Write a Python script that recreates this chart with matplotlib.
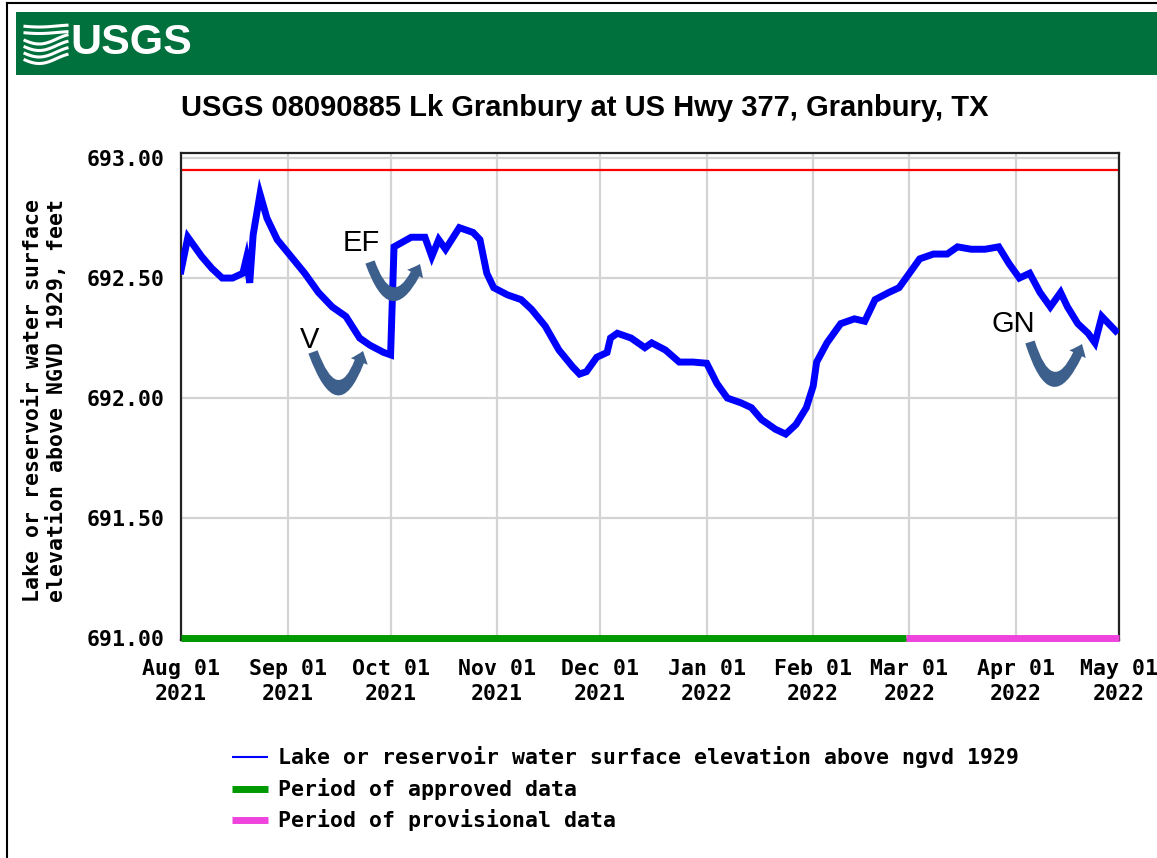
import numpy as np
import pandas as pd
import matplotlib
matplotlib.use('Agg')
import matplotlib.pyplot as plt
import matplotlib.dates as mdates
from matplotlib.patches import Rectangle, FancyArrowPatch
from matplotlib.lines import Line2D

# ---------------- data ----------------
dates = ['2021-08-01', '2021-08-03', '2021-08-07', '2021-08-10', '2021-08-13',
         '2021-08-16', '2021-08-19', '2021-08-20', '2021-08-21', '2021-08-22',
         '2021-08-24', '2021-08-26', '2021-08-29', '2021-09-02', '2021-09-06',
         '2021-09-10', '2021-09-14', '2021-09-18', '2021-09-22', '2021-09-25',
         '2021-09-29', '2021-10-01', '2021-10-02', '2021-10-07', '2021-10-11',
         '2021-10-13', '2021-10-15', '2021-10-17', '2021-10-21', '2021-10-25',
         '2021-10-27', '2021-10-29', '2021-10-31', '2021-11-04', '2021-11-08',
         '2021-11-11', '2021-11-15', '2021-11-19', '2021-11-23', '2021-11-25',
         '2021-11-27', '2021-11-30', '2021-12-03', '2021-12-04', '2021-12-06',
         '2021-12-10', '2021-12-14', '2021-12-16', '2021-12-20', '2021-12-24',
         '2021-12-28', '2022-01-01', '2022-01-04', '2022-01-07', '2022-01-11',
         '2022-01-14', '2022-01-17', '2022-01-21', '2022-01-24', '2022-01-27',
         '2022-01-30', '2022-02-01', '2022-02-02', '2022-02-05', '2022-02-09',
         '2022-02-13', '2022-02-16', '2022-02-19', '2022-02-23', '2022-02-26',
         '2022-03-01', '2022-03-04', '2022-03-08', '2022-03-12', '2022-03-15',
         '2022-03-19', '2022-03-23', '2022-03-27', '2022-03-30', '2022-04-02',
         '2022-04-05', '2022-04-08', '2022-04-11', '2022-04-14', '2022-04-16',
         '2022-04-19', '2022-04-22', '2022-04-24', '2022-04-26', '2022-04-28',
         '2022-04-30']
elevation = [692.53, 692.67, 692.59, 692.54, 692.50,
             692.50, 692.52, 692.58, 692.48, 692.68,
             692.85, 692.75, 692.66, 692.59, 692.52,
             692.44, 692.38, 692.34, 692.25, 692.22,
             692.19, 692.18, 692.63, 692.67, 692.67,
             692.59, 692.66, 692.62, 692.71, 692.69,
             692.66, 692.52, 692.46, 692.43, 692.41,
             692.37, 692.30, 692.20, 692.13, 692.10,
             692.11, 692.17, 692.19, 692.25, 692.27,
             692.25, 692.21, 692.23, 692.20, 692.15,
             692.15, 692.145, 692.06, 692.00, 691.98,
             691.96, 691.91, 691.87, 691.85, 691.89,
             691.96, 692.05, 692.15, 692.23, 692.31,
             692.33, 692.32, 692.41, 692.44, 692.46,
             692.52, 692.58, 692.60, 692.60, 692.63,
             692.62, 692.62, 692.63, 692.56, 692.50,
             692.52, 692.44, 692.38, 692.44, 692.38,
             692.31, 692.27, 692.23, 692.34, 692.31,
             692.28]

tick_dates = ['2021-08-01', '2021-09-01', '2021-10-01', '2021-11-01', '2021-12-01',
              '2022-01-01', '2022-02-01', '2022-03-01', '2022-04-01', '2022-05-01']
tick_labels = ['Aug 01\n2021', 'Sep 01\n2021', 'Oct 01\n2021', 'Nov 01\n2021',
               'Dec 01\n2021', 'Jan 01\n2022', 'Feb 01\n2022', 'Mar 01\n2022',
               'Apr 01\n2022', 'May 01\n2022']
y_ticks = [691.00, 691.50, 692.00, 692.50, 693.00]
reference_level = 692.95
approved_period = ['2021-08-01', '2022-02-28']
provisional_period = ['2022-02-28', '2022-05-01']
marker_labels = ['V', 'EF', 'GN']
legend_labels = ['Lake or reservoir water surface elevation above ngvd 1929',
                 'Period of approved data',
                 'Period of provisional data']
title = 'USGS 08090885 Lk Granbury at US Hwy 377, Granbury, TX'
ylabel = 'Lake or reservoir water surface\nelevation above NGVD 1929, feet'

# ---------------- figure ----------------
W, H, DPI = 1157, 858, 100
fig = plt.figure(figsize=(W / DPI, H / DPI), dpi=DPI)
fig.patch.set_facecolor('white')

def fx(px):
    return px / W

def fy(py):
    return 1 - py / H

MONO = 'DejaVu Sans Mono'
FS = 15.5
BLUE = '#0000FF'
GREEN = '#009900'
PINK = '#EE44DD'
ARROW = '#3D5F8C'

# outer frame
fig.add_artist(Line2D([fx(7), fx(7)], [0, fy(3)], color='black', lw=1.5))
fig.add_artist(Line2D([fx(7), 1], [fy(3), fy(3)], color='black', lw=1.5))

# USGS banner
fig.add_artist(Rectangle((fx(16), fy(75)), 1 - fx(16), fy(12) - fy(75),
                         transform=fig.transFigure, color='#00703C', lw=0))
fig.text(fx(70), fy(43), 'USGS', color='white', fontsize=31, fontweight='bold',
         family='Liberation Sans', va='center', ha='left')
# wave emblem
xs = np.linspace(25, 67, 60)
for k in range(6):
    base = 26 + k * 6.5
    ys = base + 5 * np.sin((xs - 25) / 42 * np.pi * 1.2 + 0.3) * (1 if k > 1 else 0.2)
    fig.add_artist(Line2D(fx(xs), fy(ys), color='white', lw=2.2))

# title
fig.text(fx(585), fy(108), title, fontsize=21, fontweight='bold',
         family='Liberation Sans', ha='center', va='center')

# axes
ax = fig.add_axes([fx(181), fy(640), fx(1119) - fx(181), fy(153) - fy(640)])
ax.set_xlim(pd.Timestamp('2021-08-01'), pd.Timestamp('2022-05-01'))
ax.set_ylim(690.992, 693.021)

d = pd.to_datetime(dates)
ax.plot(d, elevation, color=BLUE, lw=5.0, solid_joinstyle='miter', zorder=3)
ax.axhline(reference_level, color='#FF0000', lw=1.6, zorder=2)

ax.plot(pd.to_datetime(approved_period), [691.0, 691.0], color=GREEN, lw=5.0,
        solid_capstyle='butt', clip_on=False, zorder=5)
ax.plot(pd.to_datetime(provisional_period), [691.0, 691.0], color=PINK, lw=5.0,
        solid_capstyle='butt', clip_on=False, zorder=5)

ax.set_xticks(pd.to_datetime(tick_dates))
ax.set_xticklabels(tick_labels, family=MONO, fontweight='bold', fontsize=FS,
                   linespacing=1.3)
ax.set_yticks(y_ticks)
ax.set_yticklabels(['%.2f' % v for v in y_ticks], family=MONO, fontweight='bold',
                   fontsize=FS)
ax.tick_params(length=0, pad=12)
ax.tick_params(axis='x', pad=14)
ax.grid(True, color='#D4D4D4', lw=1.6, zorder=0)
ax.set_axisbelow(True)
for s in ax.spines.values():
    s.set_color('#222222')
    s.set_linewidth(1.6)

fig.text(fx(45), fy(400), ylabel, rotation=90, family=MONO, fontweight='bold',
         fontsize=FS, ha='center', va='center', linespacing=1.2)

# annotations: labels and U-turn arrows (figure pixel layout)
label_pos = [(310, 340), (361, 243), (1013, 324)]
arrow_pos = [((313, 352), (363, 351), 1.45),
             ((370, 262), (420, 264), 1.25),
             ((1030, 342), (1082, 344), 1.40)]
for lab, (lx, ly) in zip(marker_labels, label_pos):
    fig.text(fx(lx), fy(ly), lab, fontsize=21, family='Liberation Sans',
             ha='center', va='center', color='black', zorder=10)
for (a, b, rad) in arrow_pos:
    arr = FancyArrowPatch((fx(a[0]), fy(a[1])), (fx(b[0]), fy(b[1])),
                          transform=fig.transFigure,
                          connectionstyle='arc3,rad=%f' % rad,
                          arrowstyle='simple,head_width=13,head_length=8,tail_width=7',
                          color=ARROW, lw=0, shrinkA=0, shrinkB=0, zorder=10)
    fig.add_artist(arr)

# legend (manual)
rows_y = [757, 789, 820]
styles = [(BLUE, 1.5), (GREEN, 5.0), (PINK, 5.0)]
for lab, ry, (c, lw) in zip(legend_labels, rows_y, styles):
    fig.add_artist(Line2D([fx(232), fx(268)], [fy(ry), fy(ry)], color=c, lw=lw,
                          solid_capstyle='butt'))
    fig.text(fx(278), fy(ry), lab, family=MONO, fontweight='bold', fontsize=FS,
             ha='left', va='center')

fig.savefig('out.png', dpi=DPI)
